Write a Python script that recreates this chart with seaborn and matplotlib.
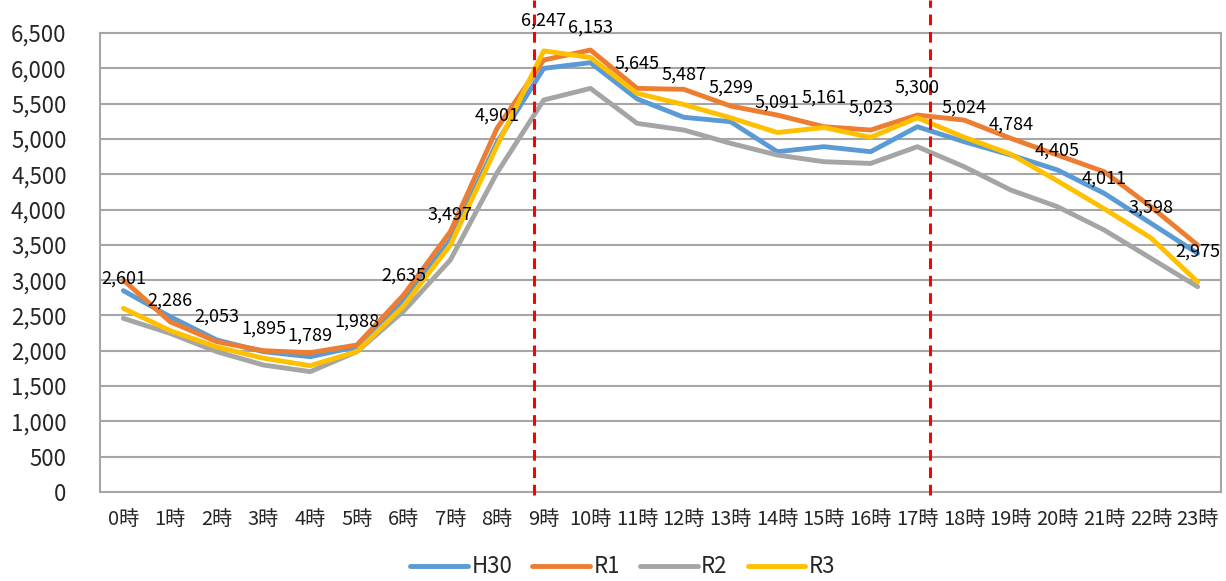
import matplotlib
matplotlib.use("Agg")
import matplotlib.pyplot as plt
import seaborn as sns
import pandas as pd
import numpy as np

hours = [f"{h}時" for h in range(24)]
H30 = [2851, 2483, 2153, 1987, 1916, 2058, 2709, 3568, 4950, 5999, 6080, 5567,
       5306, 5244, 4819, 4890, 4819, 5173, 4961, 4772, 4560, 4229, 3805, 3379]
R1 = [3002, 2412, 2129, 2001, 1973, 2082, 2790, 3686, 5150, 6117, 6259, 5716,
      5702, 5466, 5338, 5173, 5126, 5338, 5267, 5008, 4772, 4535, 4040, 3497]
R2 = [2459, 2247, 1987, 1798, 1704, 1987, 2560, 3285, 4520, 5551, 5716, 5220,
      5126, 4938, 4772, 4677, 4653, 4890, 4607, 4276, 4040, 3710, 3309, 2907]
R3 = [2601, 2286, 2053, 1895, 1789, 1988, 2635, 3497, 4901, 6247, 6153, 5645,
      5487, 5299, 5091, 5161, 5023, 5300, 5024, 4784, 4405, 4011, 3598, 2975]
series_names = ["H30", "R1", "R2", "R3"]
colors = ["#5B9BD5", "#ED7D31", "#A5A5A5", "#FFC000"]
yticks = list(range(0, 7000, 500))

sns.set_theme(style="white")
plt.rcParams["font.family"] = ["Noto Sans CJK JP", "DejaVu Sans"]

rows = []
for name, vals in zip(series_names, [H30, R1, R2, R3]):
    for i, v in enumerate(vals):
        rows.append({"hour": i, "value": v, "series": name})
df = pd.DataFrame(rows)

fig = plt.figure(figsize=(12.26, 5.81), dpi=100)
ax = fig.add_axes([100/1226, 1-492/581, 1121/1226, 459/581])

sns.lineplot(data=df, x="hour", y="value", hue="series", palette=colors,
             hue_order=series_names, linewidth=3.5, ax=ax, legend=False,
             zorder=3)
for ln in ax.get_lines():
    ln.set_solid_capstyle("round")
    ln.set_solid_joinstyle("round")

ax.set_xlim(-0.5, 23.5)
ax.set_ylim(0, 6500)
ax.set_yticks(yticks)
ax.set_yticklabels([f"{v:,}" for v in yticks], fontsize=16)
ax.set_xticks(range(24))
ax.set_xticklabels(hours, fontsize=14.5)
ax.tick_params(axis="y", length=0, pad=24)
ax.tick_params(axis="x", length=0, pad=12)
ax.set_xlabel("")
ax.set_ylabel("")
ax.grid(axis="y", color="#A6A6A6", linewidth=1.5, zorder=1)
ax.grid(axis="x", visible=False)
for s in ax.spines.values():
    s.set_color("#A6A6A6")
    s.set_linewidth(1.5)

# data labels for R3
for i, v in enumerate(R3):
    ax.annotate(f"{v:,}", xy=(i, v), xytext=(0, 21.6), textcoords="offset points",
                ha="center", va="center", fontsize=13, color="#000000", zorder=5)

# dashed red vertical lines
for xv in [8.8, 17.28]:
    ax.axvline(xv, ymin=-0.007, ymax=1.072, color="#FF0000", linewidth=2.2,
               linestyle=(0, (3.5, 2.2)), clip_on=False, zorder=4)

from matplotlib.lines import Line2D
handles = [Line2D([0], [0], color=c, linewidth=3.5, solid_capstyle="round")
           for c in colors]
fig.legend(handles, series_names, loc="lower center", ncol=4,
           bbox_to_anchor=(0.508, -0.03), frameon=False, fontsize=16,
           handlelength=2.6, columnspacing=0.9, handletextpad=0.15)

fig.savefig("out.png", dpi=100)
